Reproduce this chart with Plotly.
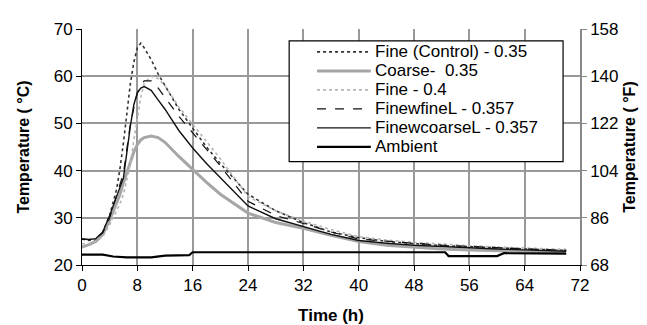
import plotly.graph_objects as go

# ---- data (time in hours, temperature in °C) ----
t_main = [0, 1, 2, 3, 4, 5, 5.5, 6, 7, 7.5, 8, 8.5, 9, 10, 11, 12, 14, 16, 18, 20,
          24, 28, 32, 36, 40, 44, 48, 52, 56, 60, 64, 68, 70]

fine_control = [25.5, 25.2, 25.3, 27.0, 30.5, 36.0, 40.5, 46.0, 58.5, 63.0, 66.0, 67.0, 66.0,
                63.5, 60.5, 58.0, 53.0, 49.0, 45.0, 41.5, 35.0, 31.5, 29.0, 27.0, 25.8,
                25.0, 24.5, 24.1, 23.9, 23.6, 23.4, 23.2, 23.1]

coarse = [23.8, 24.3, 25.0, 26.5, 29.5, 33.0, 35.0, 37.5, 42.0, 44.0, 45.5, 46.5, 47.0,
          47.3, 47.0, 46.0, 43.0, 40.2, 37.5, 35.0, 31.0, 29.0, 27.8, 26.3, 25.0,
          24.2, 23.8, 23.4, 23.2, 23.0, 22.9, 22.8, 22.7]

fine_04 = [24.5, 24.5, 25.0, 26.0, 28.5, 31.5, 33.0, 35.0, 41.5, 46.5, 51.5, 55.5, 58.5,
           60.0, 59.5, 58.0, 53.5, 49.8, 46.0, 42.5, 34.5, 31.5, 29.3, 27.5, 26.0,
           25.3, 24.8, 24.4, 24.1, 23.8, 23.6, 23.4, 23.3]

finewfineL = [25.5, 25.4, 25.6, 26.8, 30.0, 34.5, 37.0, 39.5, 50.0, 53.5, 56.5, 58.0, 59.0,
              59.0, 57.5, 55.5, 51.5, 48.0, 44.5, 41.0, 33.5, 30.5, 28.8, 27.0, 25.5,
              25.0, 24.6, 24.2, 23.9, 23.6, 23.4, 23.2, 23.1]

finewcoarseL = [25.5, 25.4, 25.6, 27.0, 30.5, 34.5, 36.5, 38.5, 49.5, 54.0, 56.5, 57.5, 57.8,
                57.0, 55.0, 53.0, 48.5, 44.8, 41.5, 38.5, 32.5, 29.8, 28.2, 26.5, 25.2,
                24.6, 24.2, 23.9, 23.6, 23.4, 23.2, 23.0, 22.9]

t_amb = [0, 3, 4.5, 6.5, 10, 11, 12, 15.5, 16, 17, 52.5, 53, 60, 61, 70]
ambient = [22.2, 22.2, 21.8, 21.6, 21.6, 21.8, 22.0, 22.1, 22.7, 22.7, 22.7, 21.9, 21.9, 22.5, 22.4]

x_ticks = [0, 8, 16, 24, 32, 40, 48, 56, 64, 72]
yc_ticks = [20, 30, 40, 50, 60, 70]
yf_ticks = [68, 86, 104, 122, 140, 158]

series = [
    ("Fine (Control) - 0.35", t_main, fine_control, dict(color="#333333", width=1.6, dash="dot")),
    ("Coarse-  0.35", t_main, coarse, dict(color="#a6a6a6", width=3)),
    ("Fine - 0.4", t_main, fine_04, dict(color="#b5b5b5", width=1.6, dash="dot")),
    ("FinewfineL - 0.357", t_main, finewfineL, dict(color="#111111", width=1.2, dash="dash")),
    ("FinewcoarseL - 0.357", t_main, finewcoarseL, dict(color="#111111", width=1.4)),
    ("Ambient", t_amb, ambient, dict(color="#000000", width=2.2)),
]

FONT = "Liberation Sans, Arial, sans-serif"

fig = go.Figure()
for name, xs, ys, ln in series:
    fig.add_trace(go.Scatter(x=xs, y=ys, mode="lines", name=name, line=ln, showlegend=False))

# invisible trace on the Fahrenheit axis so it is drawn
fig.add_trace(go.Scatter(x=t_amb, y=[v * 9 / 5 + 32 for v in ambient], yaxis="y2",
                         mode="lines", line=dict(width=0, color="rgba(0,0,0,0)"),
                         showlegend=False, hoverinfo="skip"))

# ---- hand-drawn legend box (plot-area fractions) ----
LEG_X0, LEG_X1, LEG_Y0, LEG_Y1 = 0.416, 0.966, 0.438, 0.950
ROW_TOP, ROW_STEP = 0.903, 0.0805
SAMPLE_X0, SAMPLE_X1, TEXT_X = 0.472, 0.580, 0.585

shapes = [dict(type="rect", xref="paper", yref="paper", x0=LEG_X0, x1=LEG_X1,
               y0=LEG_Y0, y1=LEG_Y1, line=dict(color="#000", width=1.2),
               fillcolor="white", layer="above")]
annotations = []
for i, (name, _, _, ln) in enumerate(series):
    yy = ROW_TOP - i * ROW_STEP
    shapes.append(dict(type="line", xref="paper", yref="paper", x0=SAMPLE_X0, x1=SAMPLE_X1,
                       y0=yy, y1=yy, line=ln, layer="above"))
    annotations.append(dict(xref="paper", yref="paper", x=TEXT_X, y=yy, text=name,
                            showarrow=False, xanchor="left", yanchor="middle",
                            font=dict(family=FONT, size=17, color="#000")))

fig.update_layout(
    width=647, height=325,
    margin=dict(l=74, r=75, t=20, b=67),
    paper_bgcolor="white", plot_bgcolor="white",
    font=dict(family=FONT, size=17, color="#000"),
    showlegend=False,
    shapes=shapes, annotations=annotations,
    xaxis=dict(range=[0, 72], tickvals=x_ticks, ticktext=[str(v) for v in x_ticks],
               showgrid=True, gridcolor="#999999", gridwidth=1.5,
               showline=True, linecolor="#000", linewidth=1,
               ticks="outside", ticklen=5, tickcolor="#000",
               zeroline=False, mirror=False,
               title=dict(text="<b>Time (h)</b>", font=dict(size=17), standoff=14)),
    yaxis=dict(range=[20, 70], tickvals=yc_ticks, ticktext=[str(v) for v in yc_ticks],
               showgrid=True, gridcolor="#999999", gridwidth=1.5,
               showline=True, linecolor="#000", linewidth=1,
               ticks="outside", ticklen=5, tickcolor="#000", zeroline=False,
               title=dict(text="<b>Temperature ( °C)</b>", font=dict(size=16), standoff=20)),
    yaxis2=dict(range=[68, 158], tickvals=yf_ticks, ticktext=[str(v) for v in yf_ticks],
                overlaying="y", side="right", showgrid=False,
                showline=True, linecolor="#888888", linewidth=1.5,
                ticks="outside", ticklen=5, tickcolor="#888888", zeroline=False,
                title=dict(text="<b>Temperature ( °F)</b>", font=dict(size=16), standoff=6)),
)

fig.write_html("out.html")
